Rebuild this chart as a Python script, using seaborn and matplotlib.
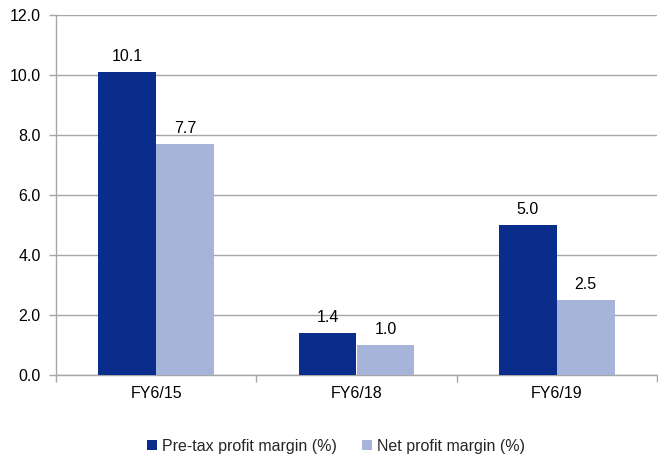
import matplotlib
matplotlib.use("Agg")
import matplotlib.pyplot as plt
import seaborn as sns
import pandas as pd
from matplotlib.ticker import FixedLocator

periods = ["FY6/15", "FY6/18", "FY6/19"]
pretax_margin = [10.1, 1.4, 5.0]
net_margin = [7.7, 1.0, 2.5]
series_names = ["Pre-tax profit margin (%)", "Net profit margin (%)"]
y_ticks = [0, 2, 4, 6, 8, 10, 12]

df = pd.DataFrame({
    "period": periods * 2,
    "series": [series_names[0]] * 3 + [series_names[1]] * 3,
    "value": pretax_margin + net_margin,
})

sns.set_theme(style="white")
plt.rcParams["font.family"] = ["Liberation Sans", "DejaVu Sans"]
FS = 11.5

fig = plt.figure(figsize=(6.58, 4.61), dpi=100)
ax = fig.add_axes([56 / 658, 1 - 375 / 461, 601 / 658, 360 / 461])

palette = {series_names[0]: "#0A2D8C", series_names[1]: "#A7B4DA"}
sns.barplot(data=df, x="period", y="value", hue="series", palette=palette,
            width=0.577, gap=0, saturation=1, linewidth=0, edgecolor="none",
            ax=ax, legend=True, zorder=3)

for container in ax.containers:
    ax.bar_label(container, fmt="%.1f", padding=6, fontsize=FS, color="#000000")

ax.set_xlim(-0.5, 2.5)
ax.set_ylim(0, 12)
ax.set_yticks(y_ticks)
ax.set_yticklabels([f"{v:.1f}" for v in y_ticks], fontsize=FS, color="#000000")
ax.yaxis.grid(True, color="#A6A6A6", linewidth=1.0, zorder=0)
ax.set_axisbelow(True)

ax.tick_params(axis="x", which="major", length=0, pad=8, labelsize=FS, labelcolor="#000000")
ax.xaxis.set_minor_locator(FixedLocator([-0.5, 0.5, 1.5, 2.5]))
ax.tick_params(axis="x", which="minor", length=5, width=1, color="#A6A6A6", bottom=True)
ax.tick_params(axis="y", which="major", length=5, width=1, color="#A6A6A6", left=True, pad=6)

ax.set_xlabel("")
ax.set_ylabel("")
for side in ["top", "right"]:
    ax.spines[side].set_visible(False)
for side in ["left", "bottom"]:
    ax.spines[side].set_color("#A6A6A6")
    ax.spines[side].set_linewidth(1.0)

handles, labels = ax.get_legend_handles_labels()
ax.legend(handles, labels, loc="center", bbox_to_anchor=(336 / 658, 1 - 446 / 461),
          bbox_transform=fig.transFigure,
          ncol=2, frameon=False, fontsize=FS, handlelength=0.6, handleheight=0.6,
          handletextpad=0.3, columnspacing=1.6)

fig.savefig("out.png", dpi=100)
